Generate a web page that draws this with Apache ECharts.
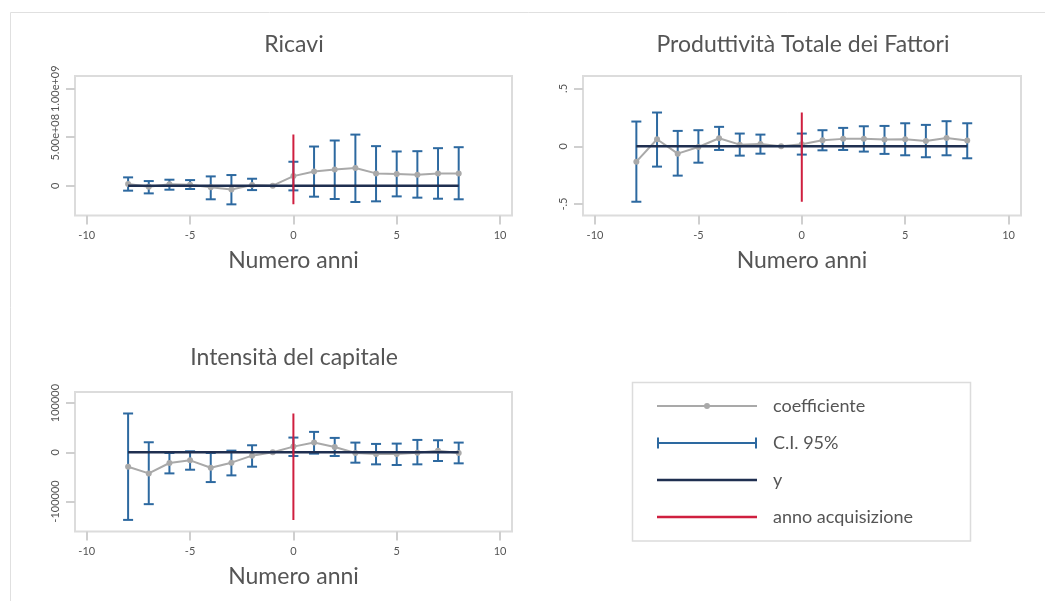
<!DOCTYPE html>
<html>
<head>
<meta charset="utf-8">
<script src="https://cdn.jsdelivr.net/npm/echarts@6/dist/echarts.min.js"></script>
<style>
html,body{margin:0;padding:0;background:#fff;}
#chart{width:1045px;height:601px;}
</style>
</head>
<body>
<div id="chart"></div>
<script>
// ---- Data ----
const years = [-8,-7,-6,-5,-4,-3,-2,-1,0,1,2,3,4,5,6,7,8];
const xTicks = [-10,-5,0,5,10];
const yLineX = [-8, 8];

// Ricavi
const ricaviCoef = [17000000,-10000000,14000000,10000000,-17000000,-38000000,7000000,0,99000000,147000000,168000000,182000000,127000000,120000000,113000000,127000000,127000000];
const ricaviLo = [-51000000,-79000000,-41000000,-34000000,-140000000,-192000000,-45000000,null,-48000000,-113000000,-137000000,-168000000,-161000000,-110000000,-123000000,-134000000,-140000000];
const ricaviHi = [86000000,48000000,62000000,58000000,96000000,110000000,72000000,null,247000000,404000000,466000000,527000000,408000000,353000000,356000000,387000000,397000000];
const ricaviAcq = [-192000000, 527000000];
const ricaviTicks = [0, 500000000, 1000000000];
const ricaviTickLabels = ['0', '5.00e+08', '1.00e+09'];

// Produttività Totale dei Fattori
const ptfCoef = [-0.133,0.061,-0.064,-0.006,0.069,0.014,0.020,0,0.017,0.052,0.064,0.064,0.058,0.061,0.046,0.072,0.049];
const ptfLo = [-0.480,-0.176,-0.254,-0.142,-0.032,-0.081,-0.064,null,-0.072,-0.035,-0.032,-0.046,-0.066,-0.078,-0.095,-0.078,-0.104];
const ptfHi = [0.214,0.292,0.133,0.139,0.168,0.110,0.101,null,0.110,0.139,0.159,0.173,0.176,0.199,0.185,0.217,0.199];
const ptfAcq = [-0.480, 0.292];
const ptfTicks = [-0.5, 0, 0.5];
const ptfTickLabels = ['-.5', '0', '.5'];

// Intensità del capitale
const capCoef = [-29250,-42860,-21770,-16330,-31290,-21090,-6800,0,11560,19730,10880,-1360,-3400,-3400,-680,3400,-1360];
const capLo = [-137400,-105400,-42860,-35370,-60500,-46900,-29250,null,-7480,-2720,-7480,-21090,-24490,-25850,-24490,-17690,-22450];
const capHi = [78900,20400,-1360,2040,-1360,3400,14290,null,29930,41500,29250,19730,17010,17690,25170,24490,19730];
const capAcq = [-137400, 78900];
const capTicks = [-100000, 0, 100000];
const capTickLabels = ['-100000', '0', '100000'];

const titles = ['Ricavi', 'Produttività Totale dei Fattori', 'Intensità del capitale'];
const xName = 'Numero anni';
const legendNames = ['coefficiente', 'C.I. 95%', 'y', 'anno acquisizione'];

// ---- Styles ----
const FONT = 'Lato, "Open Sans", sans-serif';
const TXT = '#555555';
const C_GRAY = '#a9a9a9';
const C_BLUE = '#2d69a0';
const C_NAVY = '#1f2f50';
const C_RED = '#cf1f3f';
const C_FRAME = '#dcdcdc';

const panels = [
  {coef: ricaviCoef, lo: ricaviLo, hi: ricaviHi, acq: ricaviAcq, ticks: ricaviTicks, labels: ricaviTickLabels,
   grid: {left: 75, top: 76, width: 437, height: 139.5}, ymin: -307000000, ymax: 1131000000, xmin: -10.57, xmax: 10.58},
  {coef: ptfCoef, lo: ptfLo, hi: ptfHi, acq: ptfAcq, ticks: ptfTicks, labels: ptfTickLabels,
   grid: {left: 583, top: 76, width: 438, height: 139.5}, ymin: -0.599, ymax: 0.608, xmin: -10.58, xmax: 10.6},
  {coef: capCoef, lo: capLo, hi: capHi, acq: capAcq, ticks: capTicks, labels: capTickLabels,
   grid: {left: 75, top: 392, width: 437, height: 139.5}, ymin: -160975, ymax: 122560, xmin: -10.57, xmax: 10.58}
];

const grids = [], xAxes = [], yAxes = [], series = [];

panels.forEach(function (p, i) {
  grids.push(Object.assign({show: true, borderColor: C_FRAME, borderWidth: 2, backgroundColor: 'transparent', containLabel: false}, p.grid));
  xAxes.push({
    gridIndex: i, type: 'value', min: p.xmin, max: p.xmax, position: 'bottom',
    axisLine: {show: false, onZero: false},
    axisTick: {show: true, length: 9, lineStyle: {color: '#cfcfcf', width: 2}, customValues: xTicks},
    axisLabel: {customValues: xTicks, margin: 14, fontSize: 11, color: TXT, fontFamily: FONT},
    splitLine: {show: false},
    name: xName, nameLocation: 'middle', nameGap: 34,
    nameTextStyle: {fontSize: 23, color: TXT, fontFamily: FONT}
  });
  const labs = p.labels, tks = p.ticks;
  yAxes.push({
    gridIndex: i, type: 'value', min: p.ymin, max: p.ymax, position: 'left',
    axisLine: {show: false, onZero: false},
    axisTick: {show: true, length: 9, lineStyle: {color: '#cfcfcf', width: 2}, customValues: tks},
    axisLabel: {customValues: tks, rotate: 90, margin: 14, fontSize: 11, color: TXT, fontFamily: FONT,
      formatter: function (v) { const k = tks.indexOf(v); return k >= 0 ? labs[k] : ''; }},
    splitLine: {show: false}
  });

  const ciData = [];
  years.forEach(function (yr, k) {
    if (p.lo[k] !== null && p.hi[k] !== null) ciData.push([yr, p.lo[k], p.hi[k]]);
  });

  series.push({
    name: legendNames[1], type: 'custom', xAxisIndex: i, yAxisIndex: i, z: 2,
    encode: {x: 0, y: [1, 2]},
    itemStyle: {color: C_BLUE},
    data: ciData,
    renderItem: function (params, api) {
      const x = api.value(0);
      const a = api.coord([x, api.value(1)]);
      const b = api.coord([x, api.value(2)]);
      const hw = 5;
      const st = {stroke: C_BLUE, lineWidth: 2, fill: null};
      return {type: 'group', children: [
        {type: 'line', shape: {x1: a[0], y1: a[1], x2: b[0], y2: b[1]}, style: st},
        {type: 'line', shape: {x1: a[0] - hw, y1: a[1], x2: a[0] + hw, y2: a[1]}, style: st},
        {type: 'line', shape: {x1: b[0] - hw, y1: b[1], x2: b[0] + hw, y2: b[1]}, style: st}
      ]};
    }
  });
  series.push({
    name: legendNames[0], type: 'line', xAxisIndex: i, yAxisIndex: i, z: 3,
    data: years.map(function (yr, k) { return [yr, p.coef[k]]; }),
    symbol: 'circle', symbolSize: 6, showSymbol: true,
    lineStyle: {color: C_GRAY, width: 2}, itemStyle: {color: C_GRAY},
    emphasis: {disabled: true}, animation: false
  });
  series.push({
    name: legendNames[2], type: 'line', xAxisIndex: i, yAxisIndex: i, z: 4,
    data: yLineX.map(function (x) { return [x, 0]; }),
    symbol: 'none', lineStyle: {color: C_NAVY, width: 2.5}, itemStyle: {color: C_NAVY},
    emphasis: {disabled: true}, animation: false
  });
  series.push({
    name: legendNames[3], type: 'line', xAxisIndex: i, yAxisIndex: i, z: 5,
    data: p.acq.map(function (v) { return [0, v]; }),
    symbol: 'none', lineStyle: {color: C_RED, width: 2}, itemStyle: {color: C_RED},
    emphasis: {disabled: true}, animation: false
  });
});

// Titles and legend drawn as graphic text/keys
const graphics = [
  {type: 'rect', shape: {x: 10.5, y: 12.5, width: 1100, height: 700}, style: {fill: null, stroke: '#e0e0e0', lineWidth: 1}, silent: true, z: 0},
  {type: 'text', x: 294, y: 45, style: {text: titles[0], font: '23px ' + FONT, fill: TXT, textAlign: 'center', textVerticalAlign: 'middle'}},
  {type: 'text', x: 803, y: 45, style: {text: titles[1], font: '23px ' + FONT, fill: TXT, textAlign: 'center', textVerticalAlign: 'middle'}},
  {type: 'text', x: 294, y: 358, style: {text: titles[2], font: '23px ' + FONT, fill: TXT, textAlign: 'center', textVerticalAlign: 'middle'}}
];

// Legend box
const LX = 632.5, LY = 382.5, LW = 338, LH = 158.5;
const K1 = 657, K2 = 757, TX = 773;
const rows = [406, 443, 480, 517];
graphics.push({type: 'rect', shape: {x: LX, y: LY, width: LW, height: LH}, style: {fill: '#fff', stroke: C_FRAME, lineWidth: 1.5}, silent: true});
graphics.push({type: 'line', shape: {x1: K1, y1: rows[0], x2: K2, y2: rows[0]}, style: {stroke: C_GRAY, lineWidth: 2}});
graphics.push({type: 'circle', shape: {cx: (K1 + K2) / 2, cy: rows[0], r: 3}, style: {fill: C_GRAY}});
graphics.push({type: 'line', shape: {x1: K1, y1: rows[1], x2: K2, y2: rows[1]}, style: {stroke: C_BLUE, lineWidth: 2}});
graphics.push({type: 'line', shape: {x1: K1 + 1, y1: rows[1] - 5.5, x2: K1 + 1, y2: rows[1] + 5.5}, style: {stroke: C_BLUE, lineWidth: 2}});
graphics.push({type: 'line', shape: {x1: K2 - 1, y1: rows[1] - 5.5, x2: K2 - 1, y2: rows[1] + 5.5}, style: {stroke: C_BLUE, lineWidth: 2}});
graphics.push({type: 'line', shape: {x1: K1, y1: rows[2], x2: K2, y2: rows[2]}, style: {stroke: C_NAVY, lineWidth: 2.5}});
graphics.push({type: 'line', shape: {x1: K1, y1: rows[3], x2: K2, y2: rows[3]}, style: {stroke: C_RED, lineWidth: 2.5}});
legendNames.forEach(function (n, k) {
  graphics.push({type: 'text', x: TX, y: rows[k], style: {text: n, font: '18px ' + FONT, fill: TXT, textAlign: 'left', textVerticalAlign: 'middle'}});
});

const chart = echarts.init(document.getElementById('chart'), null, {renderer: 'canvas'});
chart.setOption({
  backgroundColor: '#ffffff',
  animation: false,
  textStyle: {fontFamily: FONT},
  grid: grids,
  xAxis: xAxes,
  yAxis: yAxes,
  series: series,
  graphic: graphics
});
</script>
</body>
</html>
